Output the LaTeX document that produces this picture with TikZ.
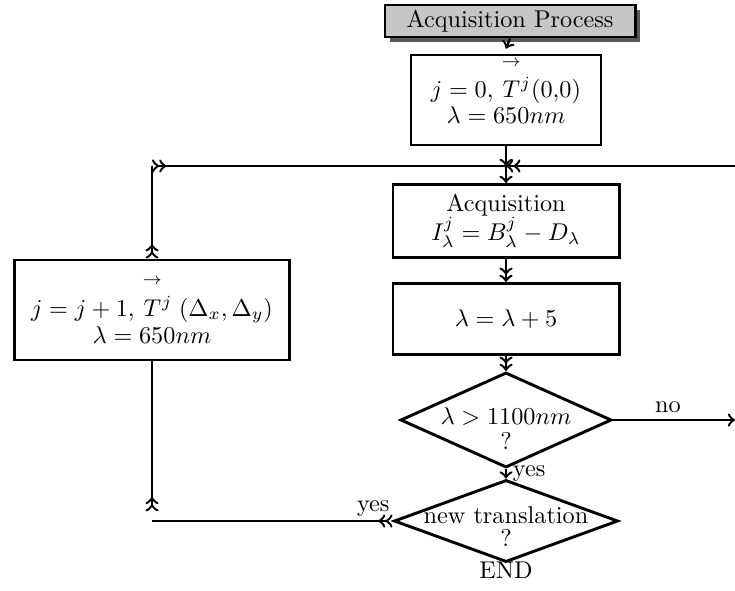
\documentclass[tikz,border=0pt]{standalone}
\usepackage{amsfonts, amsmath, amssymb}
\usetikzlibrary{shapes.geometric, shadows}

\newcommand{\Tvec}{\overset{\raisebox{4pt}{$\scriptstyle\rightarrow$}}{T}{}^{j}}

\tikzset{
  box/.style={draw, line width=1.2pt, inner sep=0pt, align=center},
  test/.style={draw, diamond, line width=1.2pt, inner sep=-8pt, aspect=2, align=center},
  flow/.style={line width=1pt},
}

\begin{document}
\begin{tikzpicture}[x=0.0145cm, y=-0.0145cm]
\useasboundingbox (0,0) rectangle (735,590);
\node[box, fill=gray!45, minimum width=3.625cm, minimum height=0.464cm,
  drop shadow={shadow xshift=2pt, shadow yshift=-2pt, fill=black!65, opacity=1}]
  (proc) at (510,21) {Acquisition Process};
\node[box, minimum width=2.755cm, minimum height=1.305cm] (init) at (506,100)
  {$j=0,\,\Tvec(0{,}0)$\\[-1.5pt] $\lambda=650nm$\rule[-8pt]{0pt}{8pt}};
\node[box, minimum width=3.277cm, minimum height=1.059cm] (acq) at (506,221)
  {Acquisition\\ $I_\lambda^j=B_\lambda^j-D_\lambda$};
\node[box, minimum width=3.277cm, minimum height=1.03cm] (incr) at (506,319)
  {$\lambda=\lambda+5$};
\node[test, minimum width=3.06cm, minimum height=1.378cm] (lmax) at (506,420)
  {\rule{0pt}{14pt}$\lambda>1100nm$\\[-1.7pt] ?};
\node[test, minimum width=3.248cm, minimum height=1.189cm] (trans) at (506,521)
  {\rule{0pt}{11.5pt}new translation\\[-2.5pt] ?};
\node[box, minimum width=3.99cm, minimum height=1.45cm] (next) at (152,310)
  {$j=j+1,\,\Tvec\;(\Delta_x,\Delta_y)$\\[-0.5pt] $\lambda=650nm$};
\node[below=-4pt] (end) at (trans.south) {END};

\coordinate (jn) at (506,166);
\coordinate (rtop) at (740,166);
\coordinate (rno) at (735,420);
\coordinate (ltop) at (next.north |- jn);
\coordinate (lbot) at (next.south |- trans.west);

\draw[flow, ->] (proc.south) -- ([yshift=2pt]init.north);
\draw[flow, ->] (init.south) -- (jn);
\draw[flow, ->] (jn) -- (acq.north);
\draw[flow, ->>] (acq.south) -- (incr.north);
\draw[flow, ->>] (incr.south) -- (lmax.north);
\draw[flow, ->] (lmax.south) -- node[right=-1pt] {yes} (trans.north);
\draw[flow, ->] (lmax.east) -- node[above=-1pt, pos=0.45] {no} (rno);
\draw[flow, ->>] (rtop) -- (jn);
\draw[flow, >>-] (trans.west) -- node[above=-2pt, pos=0.08] {yes} (lbot);
\draw[flow, >>-] ([yshift=4pt]lbot) -- (next.south);
\draw[flow, >>-] (next.north) -- (ltop);
\draw[flow, >>-] (ltop) -- (jn);
\end{tikzpicture}
\end{document}
